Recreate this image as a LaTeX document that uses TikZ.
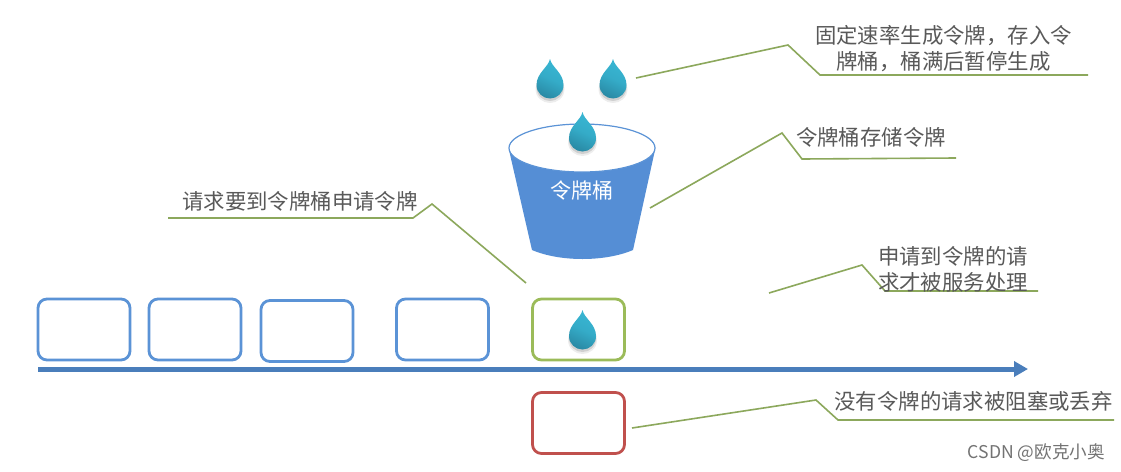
\documentclass[tikz,border=0pt]{standalone}
\usepackage{fontspec}
\setmainfont{Noto Sans CJK SC}
\usetikzlibrary{arrows.meta}
\definecolor{reqblue}{HTML}{5B93D6}
\definecolor{axisblue}{HTML}{4A7EBB}
\definecolor{okgreen}{HTML}{9BBB59}
\definecolor{noteline}{HTML}{8CA85C}
\definecolor{dropred}{HTML}{C0504D}
\definecolor{bucketblue}{HTML}{558ED5}
\definecolor{notetext}{HTML}{595959}
\definecolor{droplight}{HTML}{38B6D3}
\definecolor{dropdark}{HTML}{2A8BA6}
\tikzset{
  reqbox/.style={draw=reqblue,line width=2.8pt,rounded corners=9pt,fill=white},
  okbox/.style={reqbox,draw=okgreen},
  badbox/.style={reqbox,draw=dropred},
  noteleader/.style={draw=noteline,line width=1.6pt,line join=miter},
  note/.style={text=notetext,font=\fontsize{21.4pt}{26pt}\selectfont,inner sep=0pt,align=center},
  tokendrop/.pic={
    \fill[black,opacity=.07] (0,4) .. controls (1.5,12) and (14.5,18) .. (14.5,30) .. controls (14.5,39) and (7,44) .. (0,44) .. controls (-7,44) and (-14.5,39) .. (-14.5,30) .. controls (-14.5,18) and (-1.5,12) .. (0,4) -- cycle;
    \fill[black,opacity=.12] (0,3) .. controls (1.5,11) and (13.5,16) .. (13.5,28) .. controls (13.5,37) and (7,42) .. (0,42) .. controls (-7,42) and (-13.5,37) .. (-13.5,28) .. controls (-13.5,16) and (-1.5,11) .. (0,3) -- cycle;
    \shade[top color=droplight,bottom color=dropdark,middle color=droplight!75!dropdark,shading angle=-25]
      (0,0) .. controls (1.5,8) and (13.5,14) .. (13.5,26) .. controls (13.5,34) and (7,39.5) .. (0,39.5) .. controls (-7,39.5) and (-13.5,34) .. (-13.5,26) .. controls (-13.5,14) and (-1.5,8) .. (0,0) -- cycle;
  }
}
\begin{document}
\begin{tikzpicture}[x=1pt,y=-1pt]
\useasboundingbox (0,0) rectangle (1121,471);
\fill[white] (0,0) rectangle (1121,471);

% bucket
\fill[bucketblue] (509,150) -- (532,250) .. controls (560,262) and (605,262) .. (633,250) -- (655,150) -- cycle;
\draw[draw=reqblue,line width=1.2pt,fill=white] (582,148) ellipse [x radius=73,y radius=24];
\node[font=\fontsize{21pt}{24pt}\selectfont,text=white,inner sep=0pt] (bucketlabel) at (582,191) {令牌桶};

% drops
\pic at (550,59) {tokendrop};
\pic at (613,59) {tokendrop};
\pic at (582.5,112) {tokendrop};

% request boxes
\node[reqbox,minimum width=92pt,minimum height=61pt,inner sep=0pt] (r1) at (84,329.5) {};
\node[reqbox,minimum width=92pt,minimum height=61pt,inner sep=0pt] (r2) at (195,329.5) {};
\node[reqbox,minimum width=92pt,minimum height=61pt,inner sep=0pt] (r3) at (307,331) {};
\node[reqbox,minimum width=92pt,minimum height=61pt,inner sep=0pt] (r4) at (442.5,329.5) {};
\node[okbox,minimum width=92pt,minimum height=61pt,inner sep=0pt] (r5) at (578.5,329.5) {};
\node[badbox,minimum width=92pt,minimum height=61pt,inner sep=0pt] (r6) at (578.5,423) {};
\pic at (582.5,310) {tokendrop};

% time axis
\coordinate (axisA) at (38,369);
\coordinate (axisB) at (1028,369);
\draw[draw=axisblue,line width=5pt,-{Triangle[length=14pt,width=15pt]}] (axisA) -- (axisB);

% callouts
\coordinate (a1) at (636,78); \coordinate (a2) at (788,45); \coordinate (a3) at (820,75); \coordinate (a4) at (1088,75);
\draw[noteleader] (a1) -- (a2) -- (a3) -- (a4);
\coordinate (b1) at (650,208); \coordinate (b2) at (782,133); \coordinate (b3) at (802,159); \coordinate (b4) at (956,158);
\draw[noteleader] (b1) -- (b2) -- (b3) -- (b4);
\coordinate (c1) at (526,283); \coordinate (c2) at (432,204); \coordinate (c3) at (413,218); \coordinate (c4) at (168,218);
\draw[noteleader] (c1) -- (c2) -- (c3) -- (c4);
\coordinate (d1) at (769,293); \coordinate (d2) at (862,265); \coordinate (d3) at (885,291); \coordinate (d4) at (1038,291);
\draw[noteleader] (d1) -- (d2) -- (d3) -- (d4);
\coordinate (e1) at (632,428); \coordinate (e2) at (816,400); \coordinate (e3) at (838,420); \coordinate (e4) at (1114,420);
\draw[noteleader] (e1) -- (e2) -- (e3) -- (e4);

% notes
\node[note] (n1) at (943.5,49) {固定速率生成令牌，存入令\\牌桶，桶满后暂停生成};
\node[note] (n2) at (871,137) {令牌桶存储令牌};
\node[note] (n3) at (300,201) {请求要到令牌桶申请令牌};
\node[note] (n4) at (953,269) {申请到令牌的请\\求才被服务处理};
\node[note] (n5) at (973.5,401) {没有令牌的请求被阻塞或丢弃};
\node[text=black!55,font=\fontsize{17.6pt}{20pt}\selectfont,inner sep=0pt,anchor=east] (mark) at (1105,453) {CSDN @欧克小奥};
\end{tikzpicture}
\end{document}
